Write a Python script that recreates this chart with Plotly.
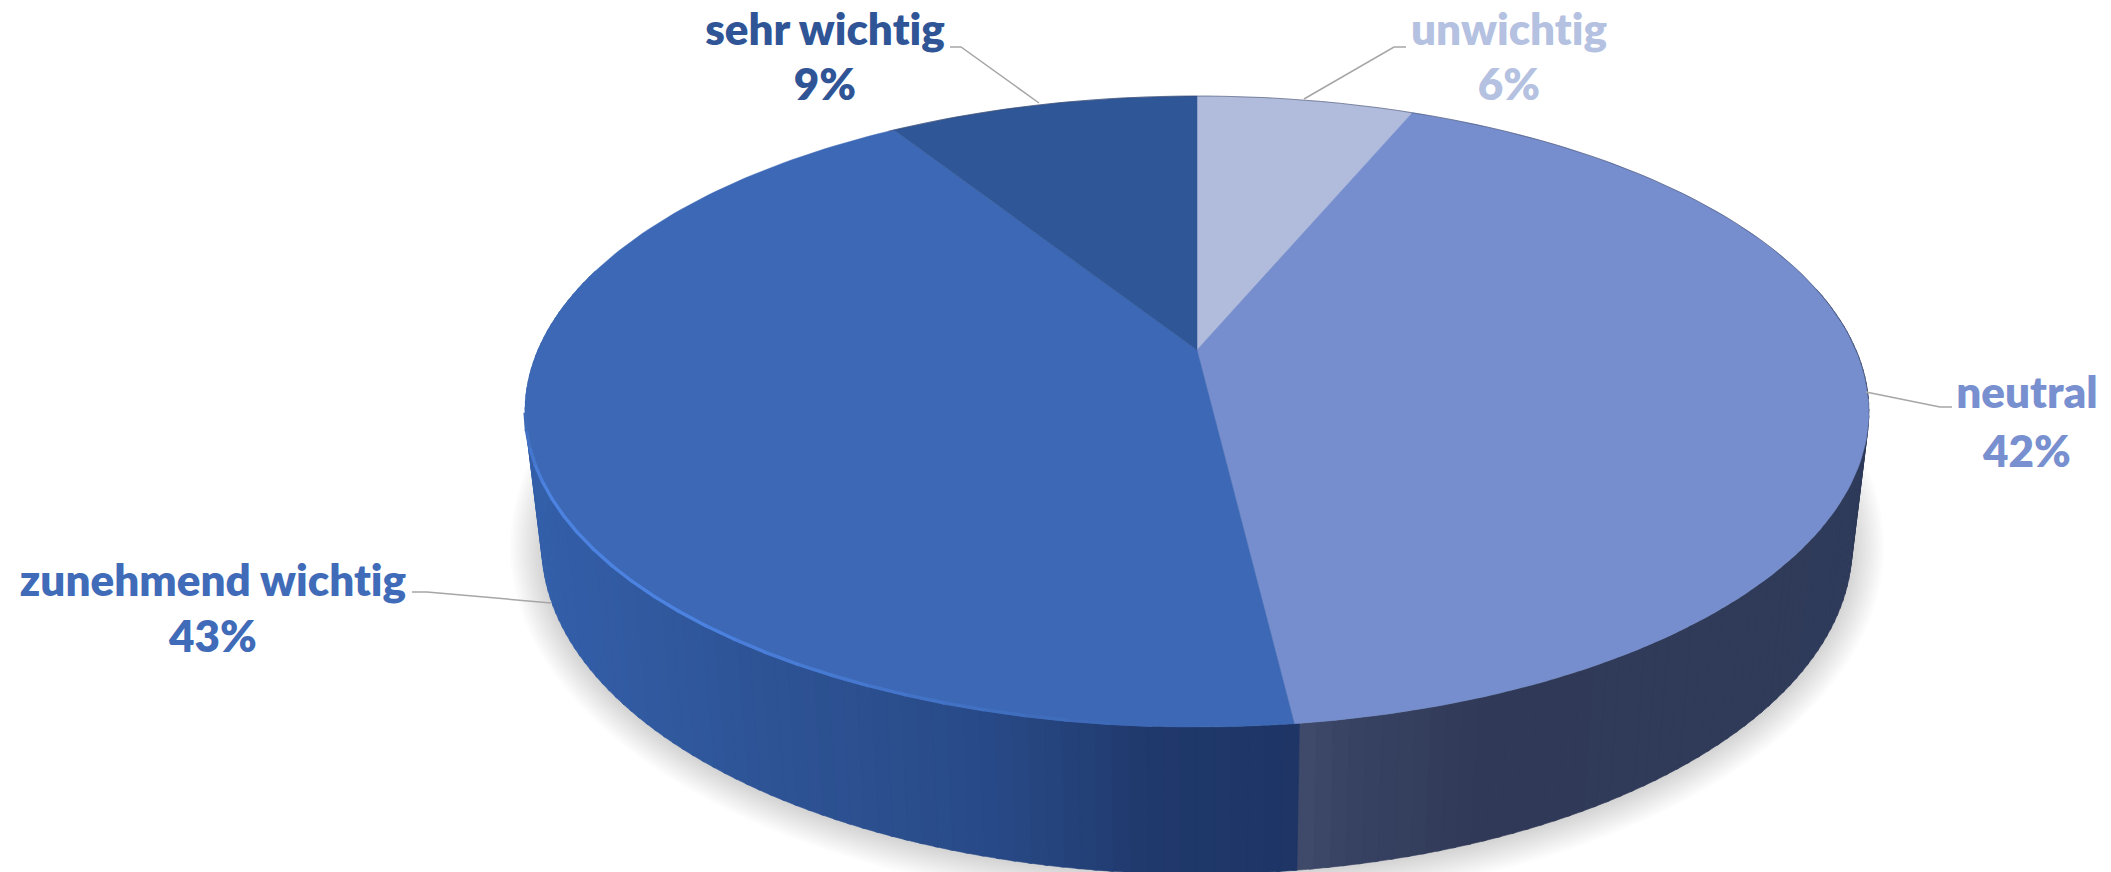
import math
import plotly.graph_objects as go

# ---- data ----
categories = ["unwichtig", "neutral", "zunehmend wichtig", "sehr wichtig"]
values = [6.3, 41.8, 42.9, 9.0]
top_colors = ["#b1bcdd", "#768ecd", "#3d68b5", "#2f5797"]
label_colors = ["#b4c1e1", "#7890cf", "#3f6bb8", "#2f5597"]
label_x = [1509, 2027, 213, 825]
name_y = [34, 397, 585, 34]
pct_y = [89, 456, 641, 89]
leaders_x = [[1406, 1394, 1304], [1866, 1940, 1952], [412, 427, 551], [950, 961, 1039]]
leaders_y = [[47, 47, 99], [392, 407, 407], [592, 592, 603], [47, 47, 103]]

W, H = 2111, 872
CX = 1197
TOP = dict(a=303.5, b=659.0, c=0.195, y0=350.0)
BOT = dict(a=316.0, b=642.6, c=0.195, y0=481.5)
# side shading by screen x: (x, colour)
side_stops = [
    (500, (0x36, 0x62, 0xAE)), (560, (0x33, 0x5E, 0xA8)), (760, (0x2E, 0x54, 0x96)),
    (1000, (0x28, 0x49, 0x86)), (1150, (0x20, 0x39, 0x6C)), (1294, (0x1E, 0x35, 0x66)),
    (1295, (0x40, 0x4A, 0x6A)), (1340, (0x38, 0x42, 0x62)), (1480, (0x30, 0x3A, 0x58)),
    (1900, (0x2F, 0x3B, 0x5A)),
]


def project(p, deg):
    t = math.radians(deg)
    u, v = math.sin(t), math.cos(t)
    w = 1 + p["c"] * v
    return CX + p["b"] * u / w, p["y0"] - p["a"] * v / w


def side_color(x):
    for (x0, c0), (x1, c1) in zip(side_stops, side_stops[1:]):
        if x <= x1:
            f = max(0.0, (x - x0) / (x1 - x0))
            return "rgb(%d,%d,%d)" % tuple(round(a + (b - a) * f) for a, b in zip(c0, c1))
    return "rgb(47,59,90)"


fig = go.Figure()


def poly(xs, ys, color, line=0):
    fig.add_trace(go.Scatter(
        x=xs, y=ys, mode="lines", fill="toself", fillcolor=color,
        line=dict(color=color, width=line), hoverinfo="skip", showlegend=False,
    ))


# soft shadow
for i in range(14, 0, -1):
    grow = i * 2.3
    xs, ys = [], []
    for k in range(0, 361, 3):
        t = math.radians(k)
        xs.append(CX + (655 + grow) * math.sin(t))
        ys.append(547 + (328 + grow) * math.cos(t))
    poly(xs, ys, "rgba(0,0,0,0.012)")

# side wall, drawn as thin strips along the rim
step = 1.2
d = 78.0
while d < 285:
    d2 = d + step + 0.3
    t1, t2 = project(TOP, d), project(TOP, d2)
    b1, b2 = project(BOT, d), project(BOT, d2)
    col = side_color((b1[0] + b2[0]) / 2)
    poly([t1[0], t2[0], b2[0], b1[0], t1[0]], [t1[1], t2[1], b2[1], b1[1], t1[1]], col, 0.6)
    d += step

# top face, one wedge per value
start = 0.0
total = sum(values)
rim_deg = []
for val, col in zip(values, top_colors):
    end = start + val / total * 360
    rim_deg.append((start, end))
    n = max(4, int((end - start) / 1.0))
    pts = [project(TOP, start + (end - start) * i / n) for i in range(n + 1)]
    xs = [CX] + [p[0] for p in pts] + [CX]
    ys = [TOP["y0"]] + [p[1] for p in pts] + [TOP["y0"]]
    poly(xs, ys, col, 0.5)
    start = end

# rim highlight on the large blue wedge
hl_start, hl_end = rim_deg[2]
base = (0x3D, 0x68, 0xB5)
glow = (0x4C, 0x82, 0xE0)
seg = 3.0
d = hl_start + 10
while d < 256:
    f = min(1.0, (d - hl_start - 10) / 35)
    if d > 244:
        f *= max(0.0, (256 - d) / 12)
    col = "rgb(%d,%d,%d)" % tuple(round(a + (b - a) * f) for a, b in zip(base, glow))
    pa, pb = project(TOP, d), project(TOP, d + seg + 0.2)
    fig.add_trace(go.Scatter(x=[pa[0], pb[0]], y=[pa[1] - 1, pb[1] - 1], mode="lines",
                             line=dict(color=col, width=3.4), hoverinfo="skip", showlegend=False))
    d += seg

# thin dark edge along the far rim
pts = [project(TOP, a) for a in range(-33, 100, 2)]
fig.add_trace(go.Scatter(x=[p[0] for p in pts], y=[p[1] for p in pts], mode="lines",
                         line=dict(color="rgba(60,70,100,0.55)", width=1), hoverinfo="skip", showlegend=False))

# leader lines
for lx, ly in zip(leaders_x, leaders_y):
    fig.add_trace(go.Scatter(x=lx, y=ly, mode="lines", line=dict(color="#a6a6a6", width=1.5),
                             hoverinfo="skip", showlegend=False))

# labels
font_name = "Lato"
fig.add_trace(go.Scatter(
    x=label_x, y=name_y, mode="text", text=categories,
    textposition="middle center",
    textfont=dict(family=font_name, size=44, color=label_colors, weight=800),
    hoverinfo="skip", showlegend=False, cliponaxis=False,
))
fig.add_trace(go.Scatter(
    x=label_x, y=pct_y, mode="text", text=[f"{round(v)}%" for v in values],
    textposition="middle center",
    textfont=dict(family=font_name, size=44, color=label_colors, weight=800),
    hoverinfo="skip", showlegend=False, cliponaxis=False,
))

fig.update_layout(
    width=W, height=H, margin=dict(l=0, r=0, t=0, b=0),
    paper_bgcolor="white", plot_bgcolor="white",
    xaxis=dict(range=[0, W], visible=False, fixedrange=True),
    yaxis=dict(range=[H, 0], visible=False, fixedrange=True),
)
post = ("document.body.style.margin='0';document.documentElement.style.overflow='hidden';"
        "var s=document.createElement('style');"
        "s.textContent='text{font-variant-ligatures:none;font-feature-settings:\"liga\" 0}';"
        "document.head.appendChild(s);")
fig.write_html("out.html", config={"displayModeBar": False}, post_script=post)
